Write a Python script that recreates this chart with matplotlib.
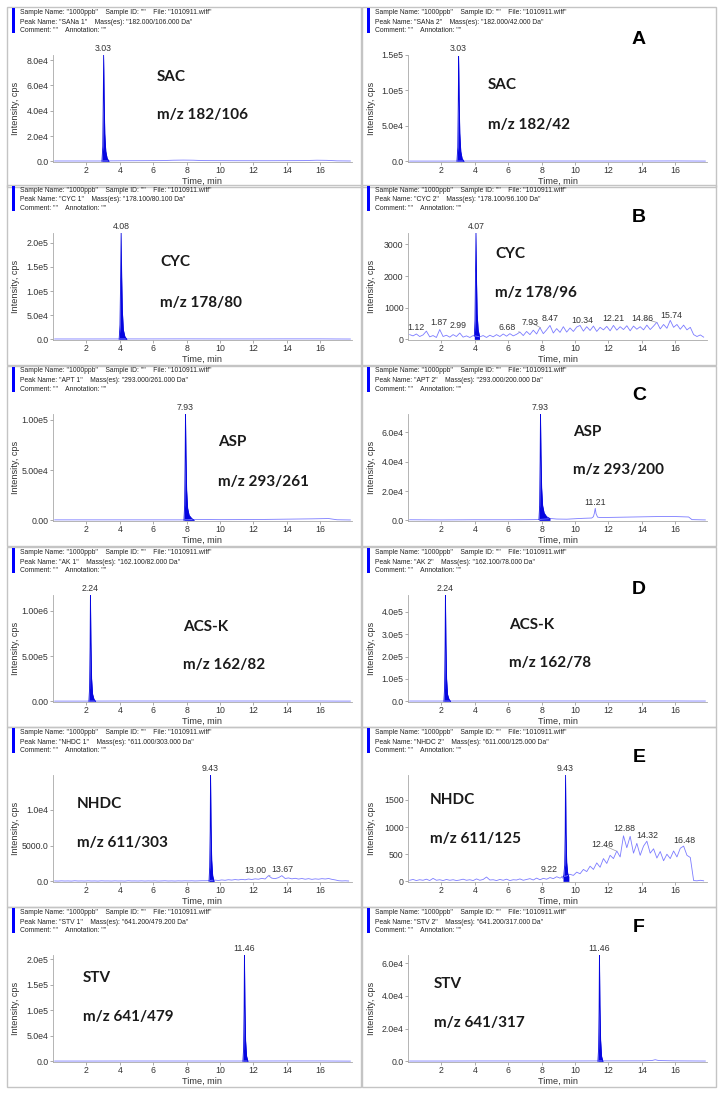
import matplotlib
matplotlib.use('Agg')
from matplotlib import pyplot as plt
from matplotlib.patches import Rectangle

W, H = 724, 1097

# common scan times (min) for the noisy traces
scan_t = [0.1, 0.3, 0.5, 0.7, 0.9, 1.1, 1.3, 1.5, 1.7, 1.9,
          2.1, 2.3, 2.5, 2.7, 2.9, 3.1, 3.3, 3.5, 3.7, 3.9,
          4.1, 4.3, 4.5, 4.7, 4.9, 5.1, 5.3, 5.5, 5.7, 5.9,
          6.1, 6.3, 6.5, 6.7, 6.9, 7.1, 7.3, 7.5, 7.7, 7.9,
          8.1, 8.3, 8.5, 8.7, 8.9, 9.1, 9.3, 9.5, 9.7, 9.9,
          10.1, 10.3, 10.5, 10.7, 10.9, 11.1, 11.3, 11.5, 11.7, 11.9,
          12.1, 12.3, 12.5, 12.7, 12.9, 13.1, 13.3, 13.5, 13.7, 13.9,
          14.1, 14.3, 14.5, 14.7, 14.9, 15.1, 15.3, 15.5, 15.7, 15.9,
          16.1, 16.3, 16.5, 16.7, 16.9, 17.1, 17.3, 17.5, 17.7]

flat_t = [0.1, 2.0, 4.0, 6.0, 8.0, 10.0, 12.0, 14.0, 16.0, 17.0, 17.8]

# --- SAC (A) ---
sac1_base_t = [0.1, 2.0, 2.9, 3.4, 5.0, 6.5, 7.2, 7.8, 8.4, 9.0, 11.0, 13.0, 15.0, 15.8, 16.4, 17.0, 17.8]
sac1_base_y = [300, 300, 300, 400, 500, 600, 900, 1000, 900, 600, 500, 500, 600, 900, 800, 400, 300]
sac1_pk_t = [2.93, 2.98, 3.01, 3.03, 3.06, 3.10, 3.16, 3.24, 3.35]
sac1_pk_y = [0, 1.2e4, 5.0e4, 8.4e4, 5.0e4, 2.2e4, 8e3, 2.5e3, 0]

sac2_base_y = [400, 400, 500, 500, 500, 500, 500, 500, 600, 500, 400]
sac2_pk_t = [2.93, 2.98, 3.01, 3.03, 3.06, 3.10, 3.16, 3.24, 3.35]
sac2_pk_y = [0, 2.0e4, 8.5e4, 1.48e5, 9.0e4, 4.0e4, 1.4e4, 4e3, 0]

# --- CYC (B) ---
cyc1_base_y = [800, 800, 900, 900, 1000, 900, 900, 1000, 1000, 800, 700]
cyc1_pk_t = [3.96, 4.01, 4.05, 4.08, 4.11, 4.15, 4.21, 4.30, 4.42]
cyc1_pk_y = [0, 3e4, 1.3e5, 2.2e5, 1.3e5, 6e4, 2e4, 6e3, 0]

cyc2_noise = [150, 110, 170, 90, 140, 260, 80, 120, 60, 310,
              90, 130, 70, 150, 90, 200, 70, 110, 60, 120,
              100, 80, 120, 60, 130, 80, 150, 90, 170, 100,
              180, 110, 160, 230, 120, 250, 150, 290, 170, 370,
              180, 300, 440, 200, 340, 220, 400, 230, 360, 250,
              390, 440, 260, 400, 280, 420, 250, 380, 300, 410,
              270, 440, 290, 400, 310, 430, 270, 420, 320, 400,
              300, 450, 310, 420, 540, 330, 470, 350, 600, 380,
              470, 320, 450, 300, 380, 150, 90, 140, 70]
cyc2_pk_t = [3.97, 4.01, 4.04, 4.07, 4.10, 4.14, 4.20, 4.28]
cyc2_pk_y = [100, 600, 2000, 3360, 1900, 800, 300, 100]

# --- ASP (C) ---
asp1_base_t = [0.1, 5.0, 7.8, 8.5, 10.0, 12.0, 14.0, 15.5, 16.5, 17.0, 17.8]
asp1_base_y = [500, 500, 500, 900, 700, 800, 1200, 1500, 1800, 600, 400]
asp1_pk_t = [7.84, 7.88, 7.91, 7.93, 7.96, 8.00, 8.06, 8.15, 8.30, 8.45]
asp1_pk_y = [0, 1.5e4, 6e4, 1.056e5, 6.5e4, 3e4, 1.2e4, 5e3, 2e3, 0]

asp2_base_t = [0.1, 2.0, 4.0, 6.0, 7.5, 7.8, 8.6, 8.9, 9.5, 10.0, 10.5, 11.0, 11.1, 11.16,
               11.21, 11.26, 11.35, 11.5, 12.0, 13.0, 14.0, 15.0, 16.0, 16.8, 17.0, 17.8]
asp2_base_y = [400, 300, 400, 400, 500, 600, 1200, 900, 800, 1100, 1400, 1600, 2500, 5000,
               8200, 4500, 2200, 1900, 2000, 2200, 2400, 2600, 2600, 2300, 500, 300]
asp2_pk_t = [7.84, 7.88, 7.91, 7.93, 7.96, 8.00, 8.06, 8.15, 8.30, 8.50]
asp2_pk_y = [500, 1e4, 4e4, 7.25e4, 4.5e4, 2.2e4, 1e4, 5e3, 2.5e3, 1200]

# --- ACS-K (D) ---
ak1_base_y = [3000, 3000, 4000, 4000, 4000, 4000, 4000, 4000, 4000, 3000, 3000]
ak1_pk_t = [2.15, 2.19, 2.22, 2.24, 2.27, 2.31, 2.37, 2.45, 2.55]
ak1_pk_y = [0, 1.5e5, 6e5, 1.175e6, 6.5e5, 2.5e5, 8e4, 2.5e4, 0]

ak2_base_y = [1500, 1500, 1800, 1800, 1800, 1800, 1800, 1800, 1800, 1500, 1500]
ak2_pk_t = [2.15, 2.19, 2.22, 2.24, 2.27, 2.31, 2.37, 2.45, 2.55]
ak2_pk_y = [0, 6e4, 2.5e5, 4.75e5, 2.6e5, 1e5, 3e4, 1e4, 0]

# --- NHDC (E) ---
nhdc1_noise = [60, 40, 70, 50, 60, 40, 80, 50, 60, 45,
               70, 50, 60, 40, 75, 55, 60, 45, 70, 50,
               60, 40, 80, 55, 60, 50, 70, 45, 65, 50,
               70, 45, 60, 80, 50, 65, 45, 70, 55, 75,
               60, 80, 55, 70, 90, 90, 100, 150, 180, 120,
               200, 150, 230, 180, 250, 200, 280, 220, 330, 260,
               350, 300, 420, 330, 800, 450, 380, 520, 800, 400,
               480, 350, 430, 320, 400, 300, 380, 280, 350, 300,
               380, 330, 400, 280, 200, 90, 60, 80, 50]
nhdc1_pk_t = [9.34, 9.38, 9.41, 9.43, 9.46, 9.50, 9.56, 9.64]
nhdc1_pk_y = [0, 2e3, 7e3, 1.49e4, 8e3, 3e3, 800, 0]

nhdc2_noise = [20, 35, 15, 30, 20, 40, 15, 55, 20, 30,
               15, 35, 20, 30, 15, 25, 40, 20, 30, 15,
               45, 20, 35, 80, 25, 30, 15, 35, 20, 40,
               15, 30, 25, 45, 20, 35, 50, 25, 60, 30,
               55, 40, 70, 50, 85, 60, 90, 100, 130, 110,
               170, 140, 220, 180, 280, 220, 340, 260, 420, 330,
               480, 420, 560, 450, 840, 620, 830, 520, 700, 480,
               650, 740, 520, 600, 430, 550, 380, 500, 420, 560,
               450, 610, 650, 480, 440, 15, 10, 20, 10]
nhdc2_pk_t = [9.28, 9.33, 9.38, 9.41, 9.43, 9.46, 9.50, 9.56, 9.63]
nhdc2_pk_y = [60, 120, 300, 900, 1960, 900, 350, 150, 80]

# --- STV (F) ---
stv1_base_y = [600, 600, 700, 700, 700, 700, 700, 800, 800, 600, 500]
stv1_pk_t = [11.37, 11.41, 11.44, 11.46, 11.49, 11.53, 11.59, 11.67]
stv1_pk_y = [0, 2.5e4, 1e5, 2.08e5, 1.1e5, 4e4, 1e4, 0]

stv2_base_t = [0.1, 2.0, 4.0, 6.0, 8.0, 10.0, 12.0, 14.0, 14.6, 14.8, 15.0, 16.0, 17.0, 17.8]
stv2_base_y = [200, 200, 250, 250, 250, 250, 300, 300, 500, 1000, 500, 300, 250, 200]
stv2_pk_t = [11.37, 11.41, 11.44, 11.46, 11.49, 11.53, 11.59, 11.67]
stv2_pk_y = [0, 8e3, 3.2e4, 6.5e4, 3.4e4, 1.3e4, 3e3, 0]

# y axis ticks per panel
sac1_ticks, sac1_tl = [0, 2e4, 4e4, 6e4, 8e4], ['0.0', '2.0e4', '4.0e4', '6.0e4', '8.0e4']
sac2_ticks, sac2_tl = [0, 5e4, 1e5, 1.5e5], ['0.0', '5.0e4', '1.0e5', '1.5e5']
cyc1_ticks, cyc1_tl = [0, 5e4, 1e5, 1.5e5, 2e5], ['0.0', '5.0e4', '1.0e5', '1.5e5', '2.0e5']
cyc2_ticks, cyc2_tl = [0, 1000, 2000, 3000], ['0', '1000', '2000', '3000']
asp1_ticks, asp1_tl = [0, 5e4, 1e5], ['0.00', '5.00e4', '1.00e5']
asp2_ticks, asp2_tl = [0, 2e4, 4e4, 6e4], ['0.0', '2.0e4', '4.0e4', '6.0e4']
ak1_ticks, ak1_tl = [0, 5e5, 1e6], ['0.00', '5.00e5', '1.00e6']
ak2_ticks, ak2_tl = [0, 1e5, 2e5, 3e5, 4e5], ['0.0', '1.0e5', '2.0e5', '3.0e5', '4.0e5']
nhdc1_ticks, nhdc1_tl = [0, 5000, 1e4], ['0.0', '5000.0', '1.0e4']
nhdc2_ticks, nhdc2_tl = [0, 500, 1000, 1500], ['0', '500', '1000', '1500']
stv1_ticks, stv1_tl = [0, 5e4, 1e5, 1.5e5, 2e5], ['0.0', '5.0e4', '1.0e5', '1.5e5', '2.0e5']
stv2_ticks, stv2_tl = [0, 2e4, 4e4, 6e4], ['0.0', '2.0e4', '4.0e4', '6.0e4']

# extra peak labels: (text, text_t, text_y, peak_t, peak_y, leader)
cyc2_labels = [('1.12', 0.45, 380, 1.12, 260, False), ('1.87', 1.86, 540, 1.87, 310, False),
               ('2.99', 3.0, 430, 2.99, 200, False), ('6.68', 5.94, 380, 6.68, 230, True),
               ('7.93', 7.34, 540, 7.93, 370, True), ('8.47', 8.48, 645, 8.47, 440, False),
               ('10.34', 10.44, 590, 10.34, 440, False), ('12.21', 12.28, 645, 12.21, 440, False),
               ('14.86', 14.04, 665, 14.86, 540, True), ('15.74', 15.74, 750, 15.74, 600, False)]
asp2_labels = [('11.21', 11.21, 1.2e4, 11.21, 8200, False)]
nhdc1_labels = [('13.00', 12.1, 1550, 13.0, 800, True), ('13.67', 13.72, 1650, 13.67, 800, False)]
nhdc2_labels = [('9.22', 8.44, 226, 9.22, 90, True), ('12.46', 11.64, 673, 12.46, 560, True),
                ('12.88', 12.94, 967, 12.88, 840, False), ('14.32', 14.34, 839, 14.32, 740, False),
                ('16.48', 16.54, 747, 16.48, 650, False)]

panels = [
    dict(col=0, row=0, peak='SANa 1', mass='182.000/106.000', t=sac1_base_t, y=sac1_base_y,
         pt=sac1_pk_t, py=sac1_pk_y, ticks=sac1_ticks, tl=sac1_tl, top=8.4e4, apex=3.03,
         name='SAC', mz='m/z 182/106', nxy=(157, 77), mxy=(157, 115), labels=[]),
    dict(col=1, row=0, peak='SANa 2', mass='182.000/42.000', t=flat_t, y=sac2_base_y,
         pt=sac2_pk_t, py=sac2_pk_y, ticks=sac2_ticks, tl=sac2_tl, top=1.5e5, apex=3.03,
         name='SAC', mz='m/z 182/42', nxy=(488, 85), mxy=(488, 125), labels=[]),
    dict(col=0, row=1, peak='CYC 1', mass='178.100/80.100', t=flat_t, y=cyc1_base_y,
         pt=cyc1_pk_t, py=cyc1_pk_y, ticks=cyc1_ticks, tl=cyc1_tl, top=2.2e5, apex=4.08,
         name='CYC', mz='m/z 178/80', nxy=(160, 262), mxy=(160, 303), labels=[]),
    dict(col=1, row=1, peak='CYC 2', mass='178.100/96.100', t=scan_t, y=cyc2_noise,
         pt=cyc2_pk_t, py=cyc2_pk_y, ticks=cyc2_ticks, tl=cyc2_tl, top=3360, apex=4.07,
         name='CYC', mz='m/z 178/96', nxy=(495, 254), mxy=(495, 293), labels=cyc2_labels),
    dict(col=0, row=2, peak='APT 1', mass='293.000/261.000', t=asp1_base_t, y=asp1_base_y,
         pt=asp1_pk_t, py=asp1_pk_y, ticks=asp1_ticks, tl=asp1_tl, top=1.056e5, apex=7.93,
         name='ASP', mz='m/z 293/261', nxy=(218, 442), mxy=(218, 482), labels=[]),
    dict(col=1, row=2, peak='APT 2', mass='293.000/200.000', t=asp2_base_t, y=asp2_base_y,
         pt=asp2_pk_t, py=asp2_pk_y, ticks=asp2_ticks, tl=asp2_tl, top=7.25e4, apex=7.93,
         name='ASP', mz='m/z 293/200', nxy=(573, 432), mxy=(573, 470), labels=asp2_labels),
    dict(col=0, row=3, peak='AK 1', mass='162.100/82.000', t=flat_t, y=ak1_base_y,
         pt=ak1_pk_t, py=ak1_pk_y, ticks=ak1_ticks, tl=ak1_tl, top=1.175e6, apex=2.24,
         name='ACS-K', mz='m/z 162/82', nxy=(183, 627), mxy=(183, 665), labels=[]),
    dict(col=1, row=3, peak='AK 2', mass='162.100/78.000', t=flat_t, y=ak2_base_y,
         pt=ak2_pk_t, py=ak2_pk_y, ticks=ak2_ticks, tl=ak2_tl, top=4.75e5, apex=2.24,
         name='ACS-K', mz='m/z 162/78', nxy=(509, 625), mxy=(509, 663), labels=[]),
    dict(col=0, row=4, peak='NHDC 1', mass='611.000/303.000', t=scan_t, y=nhdc1_noise,
         pt=nhdc1_pk_t, py=nhdc1_pk_y, ticks=nhdc1_ticks, tl=nhdc1_tl, top=1.49e4, apex=9.43,
         name='NHDC', mz='m/z 611/303', nxy=(77, 804), mxy=(77, 843), labels=nhdc1_labels),
    dict(col=1, row=4, peak='NHDC 2', mass='611.000/125.000', t=scan_t, y=nhdc2_noise,
         pt=nhdc2_pk_t, py=nhdc2_pk_y, ticks=nhdc2_ticks, tl=nhdc2_tl, top=1960, apex=9.43,
         name='NHDC', mz='m/z 611/125', nxy=(430, 800), mxy=(430, 839), labels=nhdc2_labels),
    dict(col=0, row=5, peak='STV 1', mass='641.200/479.200', t=flat_t, y=stv1_base_y,
         pt=stv1_pk_t, py=stv1_pk_y, ticks=stv1_ticks, tl=stv1_tl, top=2.08e5, apex=11.46,
         name='STV', mz='m/z 641/479', nxy=(83, 978), mxy=(83, 1017), labels=[]),
    dict(col=1, row=5, peak='STV 2', mass='641.200/317.000', t=stv2_base_t, y=stv2_base_y,
         pt=stv2_pk_t, py=stv2_pk_y, ticks=stv2_ticks, tl=stv2_tl, top=6.5e4, apex=11.46,
         name='STV', mz='m/z 641/317', nxy=(434, 984), mxy=(434, 1023), labels=[]),
]

letters = ['A', 'B', 'C', 'D', 'E', 'F']
letter_y = [40, 218, 395, 590, 757, 928]

# layout (pixels)
col_x = [7, 362]
col_w = [354, 354]
row_hy = [12, 190, 371, 552, 732, 912]

TRACE = '#7b7bff'
FILL = '#0505e0'
TXT = '#333333'
SANS = ['Liberation Sans', 'DejaVu Sans']
SMALL = 6.3


def fx(x):
    return x / W


def fy(y):
    return 1 - y / H


fig = plt.figure(figsize=(W / 100, H / 100), dpi=100)
fig.patch.set_facecolor('white')

for p in panels:
    x0 = col_x[p['col']]
    hy = row_hy[p['row']]

    # panel frame
    fig.add_artist(Rectangle((fx(x0), fy(hy + 175)), col_w[p['col']] / W, 180 / H,
                             transform=fig.transFigure, fill=False, ec='#c4c4c4', lw=1.0))
    # blue marker and header
    fig.add_artist(Rectangle((fx(x0 + 5), fy(hy + 21)), 3 / W, 25 / H,
                             transform=fig.transFigure, fc='#0000ff', ec='none'))
    hdr = ['Sample Name: "1000ppb"    Sample ID: ""    File: "1010911.wiff"',
           'Peak Name: "%s"    Mass(es): "%s Da"' % (p['peak'], p['mass']),
           'Comment: ""    Annotation: ""']
    for i, line in enumerate(hdr):
        fig.text(fx(x0 + 13), fy(hy + [0, 10, 19][i]), line, fontsize=4.9,
                 family=SANS, va='center', ha='left', color='#222222')

    # plot area
    ax_l, ax_r = x0 + 46, x0 + 345
    ax_t, ax_b = hy + 43, hy + 150
    ax = fig.add_axes([fx(ax_l), fy(ax_b), (ax_r - ax_l) / W, (ax_b - ax_t) / H])
    ax.set_facecolor('none')
    ax.plot(p['t'], p['y'], color=TRACE, lw=0.6)
    ax.fill_between(p['pt'], p['py'], 0, color=FILL, lw=0)
    ax.plot(p['pt'], p['py'], color=FILL, lw=0.6)
    ax.set_xlim(0, 17.9)
    ax.set_ylim(-0.006 * p['top'], p['top'])
    ax.set_xticks([2, 4, 6, 8, 10, 12, 14, 16])
    ax.set_yticks(p['ticks'])
    ax.set_yticklabels(p['tl'])
    for s in ['top', 'right']:
        ax.spines[s].set_visible(False)
    for s in ['left', 'bottom']:
        ax.spines[s].set_color('#a8a8a8')
        ax.spines[s].set_linewidth(0.6)
    ax.tick_params(length=2, width=0.5, color='#888888', labelcolor=TXT, labelsize=SMALL, pad=1.2)
    for lab in ax.get_xticklabels() + ax.get_yticklabels():
        lab.set_family(SANS)

    ax.annotate('%.2f' % p['apex'], xy=(p['apex'], p['top']), xytext=(0, 1.5),
                textcoords='offset points', ha='center', va='bottom', fontsize=SMALL,
                family=SANS, color=TXT, annotation_clip=False)
    for txt, tx, ty, pkt, pky, leader in p['labels']:
        if leader:
            ax.annotate(txt, xy=(pkt, pky), xytext=(tx, ty), ha='center', va='center',
                        fontsize=SMALL, family=SANS, color=TXT, annotation_clip=False,
                        arrowprops=dict(arrowstyle='-', color='#999999', lw=0.5,
                                        shrinkA=1, shrinkB=0))
        else:
            ax.text(tx, ty, txt, ha='center', va='center', fontsize=SMALL, family=SANS,
                    color=TXT, clip_on=False)

    # axis titles
    fig.text(fx(x0 + 9), fy((ax_t + ax_b) / 2), 'Intensity, cps', rotation=90, fontsize=6.6,
             family=SANS, color=TXT, ha='center', va='center')
    fig.text(fx((ax_l + ax_r) / 2), fy(hy + 169), 'Time, min', fontsize=6.6, family=SANS,
             color=TXT, ha='center', va='center')

    # compound annotation
    fig.text(fx(p['nxy'][0]), fy(p['nxy'][1]), p['name'], fontsize=11, weight='bold',
             family=['Lato', 'DejaVu Sans'], color='#1a1a1a', ha='left', va='center')
    fig.text(fx(p['mxy'][0]), fy(p['mxy'][1]), p['mz'], fontsize=11, weight='bold',
             family=['Lato', 'DejaVu Sans'], color='#1a1a1a', ha='left', va='center')

for letter, ly in zip(letters, letter_y):
    fig.text(fx(639), fy(ly), letter, fontsize=14, weight='bold', family=SANS,
             color='black', ha='center', va='center')

fig.savefig('out.png', dpi=100)
